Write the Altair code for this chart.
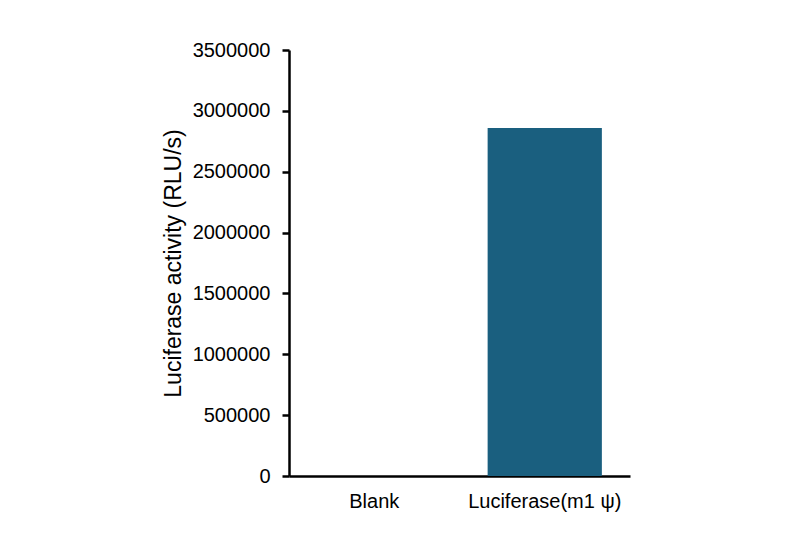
import altair as alt
import pandas as pd

categories = ["Blank", "Luciferase(m1 ψ)"]
values = [0, 2860000]

df = pd.DataFrame({"cat": categories, "val": values})

bars = alt.Chart(df).mark_bar(color="#1a5f7f").encode(
    x=alt.X("cat:N", sort=categories, title=None,
            scale=alt.Scale(paddingInner=0.33, paddingOuter=0.165),
            axis=alt.Axis(labelAngle=0, labelFontSize=20, labelFont="Liberation Sans",
                          labelColor="black", ticks=False, domainColor="black",
                          domainWidth=2.5, labelPadding=15)),
    y=alt.Y("val:Q", title="Luciferase activity (RLU/s)",
            scale=alt.Scale(domain=[0, 3500000], nice=False),
            axis=alt.Axis(values=list(range(0, 3500001, 500000)), format="d",
                          labelFontSize=20, labelFont="Liberation Sans", labelColor="black",
                          titleFontSize=23, titleFont="Liberation Sans", titleColor="black",
                          titleFontWeight="normal", tickColor="black", tickWidth=2.5,
                          tickSize=7, domainColor="black", domainWidth=2.5,
                          labelPadding=12, titlePadding=7, grid=False)),
)

chart = bars.properties(
    width=341, height=426,
    background="white",
    autosize=alt.AutoSizeParams(type="none"),
    padding={"left": 281, "top": 42, "right": 150, "bottom": 60},
).configure_view(stroke=None)

chart.save("out.html", embed_options={"renderer": "svg", "actions": False})
